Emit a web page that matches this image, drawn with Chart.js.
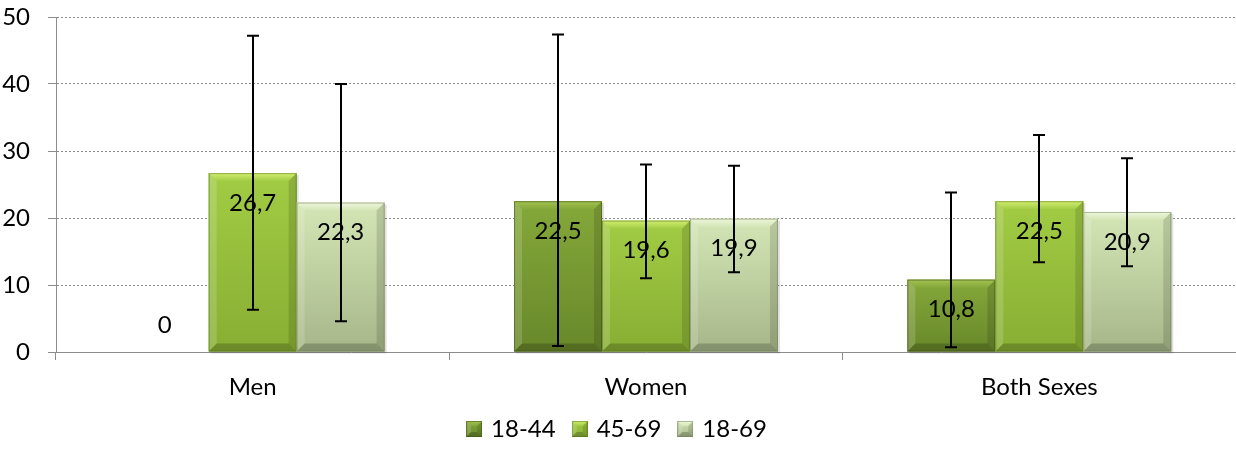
<!DOCTYPE html>
<html>
<head>
<meta charset="utf-8">
<script src="https://cdn.jsdelivr.net/npm/chart.js@4/dist/chart.umd.min.js"></script>
<style>
  html, body { margin: 0; padding: 0; background: #fff; }
</style>
</head>
<body>
<canvas id="chart" width="1236" height="457"></canvas>
<script>
// Chart data
const categories = ['Men', 'Women', 'Both Sexes'];
const seriesNames = ['18-44', '45-69', '18-69'];

const values1844 = [0, 22.5, 10.8];
const values4569 = [26.7, 19.6, 22.5];
const values1869 = [22.3, 19.9, 20.9];

// error bar ends (null = no error bar)
const low1844 = [null, 0.9, 0.7];
const high1844 = [null, 47.4, 23.8];
const low4569 = [6.3, 11.0, 13.4];
const high4569 = [47.2, 28.0, 32.4];
const low1869 = [4.6, 11.9, 12.8];
const high1869 = [40.0, 27.8, 28.9];

const yTicks = [0, 10, 20, 30, 40, 50];

// bevel colour sets per series
const bevelColors = [
  { base: '#7b9c35', top: '#85a83a', bottom: '#68882a', light: '#a3c252', edge: 'rgba(60,80,20,0.55)' },
  { base: '#98c13c', top: '#a2cc44', bottom: '#88ae33', light: '#d2ee70', edge: 'rgba(80,110,30,0.5)' },
  { base: '#c4d6a3', top: '#d4e6b6', bottom: '#a6b689', light: '#eef6dc', edge: 'rgba(110,125,85,0.5)' }
];

const FONT = 'Lato';
const FONT_SIZE = 24;

function fmt(v) {
  return v === 0 ? '0' : v.toFixed(1).replace('.', ',');
}

function poly(ctx, pts, fill) {
  ctx.beginPath();
  ctx.moveTo(pts[0][0], pts[0][1]);
  for (let i = 1; i < pts.length; i++) ctx.lineTo(pts[i][0], pts[i][1]);
  ctx.closePath();
  ctx.fillStyle = fill;
  ctx.fill();
}

function drawBevel(ctx, l, t, r, b, c, bev) {
  const w = r - l, h = b - t;
  if (h <= 1) return;
  const bv = Math.min(bev, h / 2, w / 2);
  const g = ctx.createLinearGradient(0, t, 0, b);
  g.addColorStop(0, c.top);
  g.addColorStop(1, c.bottom);
  ctx.fillStyle = g;
  ctx.fillRect(l, t, w, h);
  const tg = ctx.createLinearGradient(0, t, 0, t + bv);
  tg.addColorStop(0, c.light);
  tg.addColorStop(1, c.top);
  poly(ctx, [[l, t], [r, t], [r - bv, t + bv], [l + bv, t + bv]], tg);
  poly(ctx, [[l, t], [l + bv, t + bv], [l + bv, b - bv], [l, b]], 'rgba(255,255,255,0.16)');
  poly(ctx, [[r, t], [r, b], [r - bv, b - bv], [r - bv, t + bv]], 'rgba(0,0,0,0.13)');
  poly(ctx, [[l, b], [l + bv, b - bv], [r - bv, b - bv], [r, b]], 'rgba(0,0,0,0.2)');
  ctx.strokeStyle = c.edge;
  ctx.lineWidth = 1;
  ctx.strokeRect(l + 0.5, t + 0.5, w - 1, h - 1);
}

// legend icons with the same bevel look
const legendIcons = bevelColors.map(c => {
  const cv = document.createElement('canvas');
  cv.width = 16; cv.height = 16;
  drawBevel(cv.getContext('2d'), 0, 0, 16, 16, c, 5);
  return cv;
});

const errLows = [low1844, low4569, low1869];
const errHighs = [high1844, high4569, high1869];

const bevelPlugin = {
  id: 'bevel',
  afterDatasetsDraw(chart) {
    const ctx = chart.ctx;
    ctx.save();
    chart.data.datasets.forEach((ds, di) => {
      const meta = chart.getDatasetMeta(di);
      meta.data.forEach(el => {
        const p = el.getProps(['x', 'y', 'base', 'width'], true);
        const l = p.x - p.width / 2, r = p.x + p.width / 2;
        if (p.base - p.y > 1) {
          ctx.fillStyle = 'rgba(0,0,0,0.12)';
          ctx.fillRect(l + 2, p.y + 2, p.width, p.base - p.y);
        }
        drawBevel(ctx, l, p.y, r, p.base, bevelColors[di], 8);
      });
    });
    ctx.restore();
  }
};

const labelPlugin = {
  id: 'barLabels',
  afterDatasetsDraw(chart) {
    const ctx = chart.ctx;
    ctx.save();
    ctx.font = FONT_SIZE + 'px ' + FONT;
    ctx.fillStyle = '#000';
    ctx.textAlign = 'center';
    ctx.textBaseline = 'middle';
    chart.data.datasets.forEach((ds, di) => {
      const meta = chart.getDatasetMeta(di);
      meta.data.forEach((el, i) => {
        const v = ds.data[i];
        const p = el.getProps(['x', 'y', 'base'], true);
        const y = v === 0 ? p.base - 27 : p.y + 30;
        ctx.fillText(fmt(v), p.x, y);
      });
    });
    ctx.restore();
  }
};

const errorBarPlugin = {
  id: 'errorBars',
  afterDatasetsDraw(chart) {
    const ctx = chart.ctx;
    const ys = chart.scales.y;
    ctx.save();
    ctx.strokeStyle = '#000';
    ctx.lineWidth = 2;
    chart.data.datasets.forEach((ds, di) => {
      const meta = chart.getDatasetMeta(di);
      meta.data.forEach((el, i) => {
        const lo = errLows[di][i], hi = errHighs[di][i];
        if (lo == null || hi == null) return;
        const x = Math.round(el.x);
        const y1 = ys.getPixelForValue(hi), y2 = ys.getPixelForValue(lo);
        ctx.beginPath();
        ctx.moveTo(x, y1); ctx.lineTo(x, y2);
        ctx.moveTo(x - 6, y1); ctx.lineTo(x + 6, y1);
        ctx.moveTo(x - 6, y2); ctx.lineTo(x + 6, y2);
        ctx.stroke();
      });
    });
    ctx.restore();
  }
};

const seriesValues = [values1844, values4569, values1869];

new Chart(document.getElementById('chart'), {
  type: 'bar',
  data: {
    labels: categories,
    datasets: seriesNames.map((name, i) => ({
      label: name,
      data: seriesValues[i],
      backgroundColor: bevelColors[i].base,
      borderWidth: 0,
      categoryPercentage: 0.671,
      barPercentage: 1.0
    }))
  },
  options: {
    responsive: false,
    animation: false,
    devicePixelRatio: 1,
    layout: { padding: { left: 0, top: 17, right: 0, bottom: 9 } },
    plugins: {
      legend: {
        position: 'bottom',
        maxHeight: 50,
        labels: {
          font: { family: FONT, size: FONT_SIZE },
          color: '#000',
          usePointStyle: true,
          pointStyleWidth: 10,
          boxWidth: 16,
          boxHeight: 16,
          padding: 19,
          generateLabels: chart => chart.data.datasets.map((ds, i) => ({
            text: ds.label,
            pointStyle: legendIcons[i],
            datasetIndex: i,
            hidden: false,
            fillStyle: ds.backgroundColor,
            strokeStyle: 'transparent',
            lineWidth: 0,
            fontColor: '#000'
          }))
        }
      },
      tooltip: { enabled: false }
    },
    scales: {
      x: {
        afterFit: axis => { axis.height = 46; },
        grid: {
          display: true,
          drawOnChartArea: false,
          drawTicks: true,
          tickLength: 8,
          color: '#8c8c8c'
        },
        border: { color: '#8c8c8c', width: 1 },
        ticks: {
          font: { family: FONT, size: FONT_SIZE },
          color: '#000',
          padding: 13
        }
      },
      y: {
        min: yTicks[0],
        max: yTicks[yTicks.length - 1],
        afterBuildTicks: axis => { axis.ticks = yTicks.map(v => ({ value: v })); },
        afterFit: axis => {
          axis.width = 56;
          axis.paddingTop = 0;
          axis.paddingBottom = 0;
        },
        grid: {
          color: c => (c.tick && c.tick.value === 0 ? 'rgba(0,0,0,0)' : '#8c8c8c'),
          tickColor: '#8c8c8c',
          tickLength: 8,
          lineWidth: 1
        },
        border: { color: '#8c8c8c', width: 1, dash: [2, 2] },
        ticks: {
          font: { family: FONT, size: FONT_SIZE },
          color: '#000',
          padding: 18
        }
      }
    }
  },
  plugins: [bevelPlugin, labelPlugin, errorBarPlugin]
});
</script>
</body>
</html>
